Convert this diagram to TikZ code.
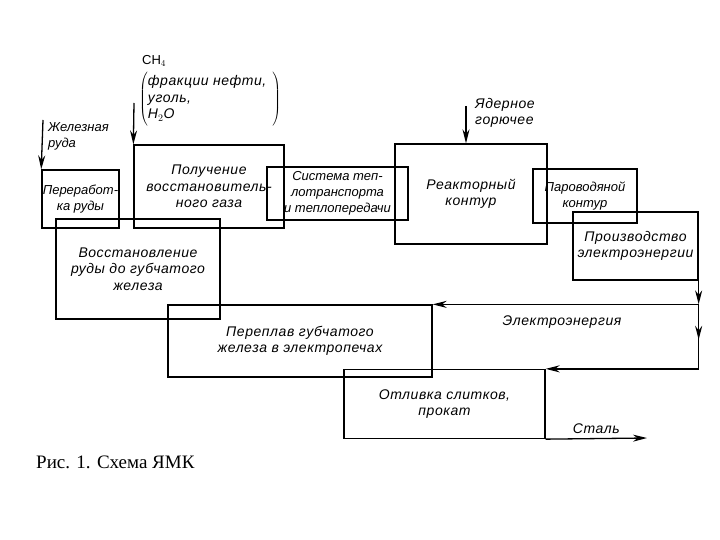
\documentclass[tikz,border=0pt]{standalone}
\usepackage{fontspec}
\setmainfont{Liberation Serif}
\newfontfamily\drawfont[LetterSpace=4]{Liberation Sans}
\newfontfamily\narrowfont{Liberation Sans}
\usetikzlibrary{arrows.meta, positioning, calc, decorations.markings}

\begin{document}
\begin{tikzpicture}[
    x=1pt, y=-1pt,
    stage/.style={rectangle, draw, line width=1.3pt, inner sep=1pt, align=center, font=\drawfont\itshape\fontsize{14}{16.5}\selectfont},
    small/.style={font=\narrowfont\itshape\fontsize{13}{16}\selectfont},
    lbl/.style={inner sep=1pt, font=\drawfont\itshape\fontsize{14}{16.5}\selectfont},
    caption/.style={inner sep=0pt, font=\fontsize{19}{21}\selectfont},
    arrow/.style={draw, line width=1.3pt, -{Stealth[length=14pt, width=7pt]}},
    midarrow/.style={draw, line width=1.3pt, postaction={decorate}, decoration={markings, mark=at position 0.55 with {\arrow{Stealth[length=14pt, width=7pt]}}}}
]
\useasboundingbox (0,0) rectangle (720,540);

% Nodes
\node[stage, small, minimum width=75pt, minimum height=58pt] (ruda) at (80.5,199) {Переработ-\\ка руды};
\node[stage, minimum width=150pt, minimum height=83pt] (gaz) at (209,186.5) {Получение\\восстановитель-\\ного газа};
\node[stage, small, minimum width=141pt, minimum height=53pt] (teplo) at (337.5,193.5) {Система теп-\\лотранспорта\\и теплопередачи};
\node[stage, minimum width=152pt, minimum height=100pt] (reaktor) at (471,194) {Реакторный\\контур};
\node[stage, small, minimum width=104pt, minimum height=54pt] (parovod) at (585,196) {Пароводяной\\контур};
\node[stage, minimum width=125pt, minimum height=68pt] (elektro) at (635.5,246) {Производство\\электроэнергии};
\node[stage, minimum width=164pt, minimum height=100pt] (vosst) at (138,269) {Восстановление\\руды до губчатого\\железа};
\node[stage, minimum width=264pt, minimum height=72pt] (pereplav) at (300,341) {Переплав губчатого\\железа в электропечах};
\node[stage, minimum width=201pt, minimum height=69pt] (otlivka) at (444.5,404) {Отливка слитков,\\прокат};

% Inputs
\coordinate (rudain) at (43,120);
\coordinate (gazin) at (134,103);
\coordinate (toplivo) at (466,106);
\node[lbl, small, anchor=west, align=left] (rudatxt) at (47,136) {Железная\\руда};
\node[lbl, anchor=west, font=\narrowfont\fontsize{13}{16}\selectfont] (ch4) at (141,61) {CH$_4$};
\node[lbl, anchor=north west] (fuel) at (138,71) {$\left(\vrule height 25pt depth 25pt width 0pt\vcenter{\hbox{\begin{tabular}{@{}l@{\hspace{6pt}}}фракции нефти,\\уголь,\\H$_2$O\end{tabular}}}\right)$};
\node[lbl, anchor=west, align=left] (toplivotxt) at (474,113) {Ядерное\\горючее};

% Outputs
\coordinate (e1) at (elektro.south east |- pereplav.north);
\coordinate (e2) at (e1 |- otlivka.north);
\coordinate (stal) at (647,438);
\node[lbl] (energtxt) at (562,322) {Электроэнергия};

% Arrows
\draw[arrow] (rudain) -- (ruda.north west);
\draw[arrow] (gazin) -- (gaz.north west);
\draw[arrow] (toplivo) -- (toplivo |- reaktor.north);
\draw[arrow] (elektro.south east) -- (e1);
\draw[arrow] (e1) -- (pereplav.north east);
\draw[midarrow] (e1) -- (e2);
\draw[arrow] (e2) -- (otlivka.north east);
\draw[arrow] (otlivka.south east) -- (stal) node[lbl, midway, above=3pt] {Сталь};

% Caption
\node[caption, anchor=west] (fig) at (36,462) {Рис. 1. Схема ЯМК};

\end{tikzpicture}
\end{document}
